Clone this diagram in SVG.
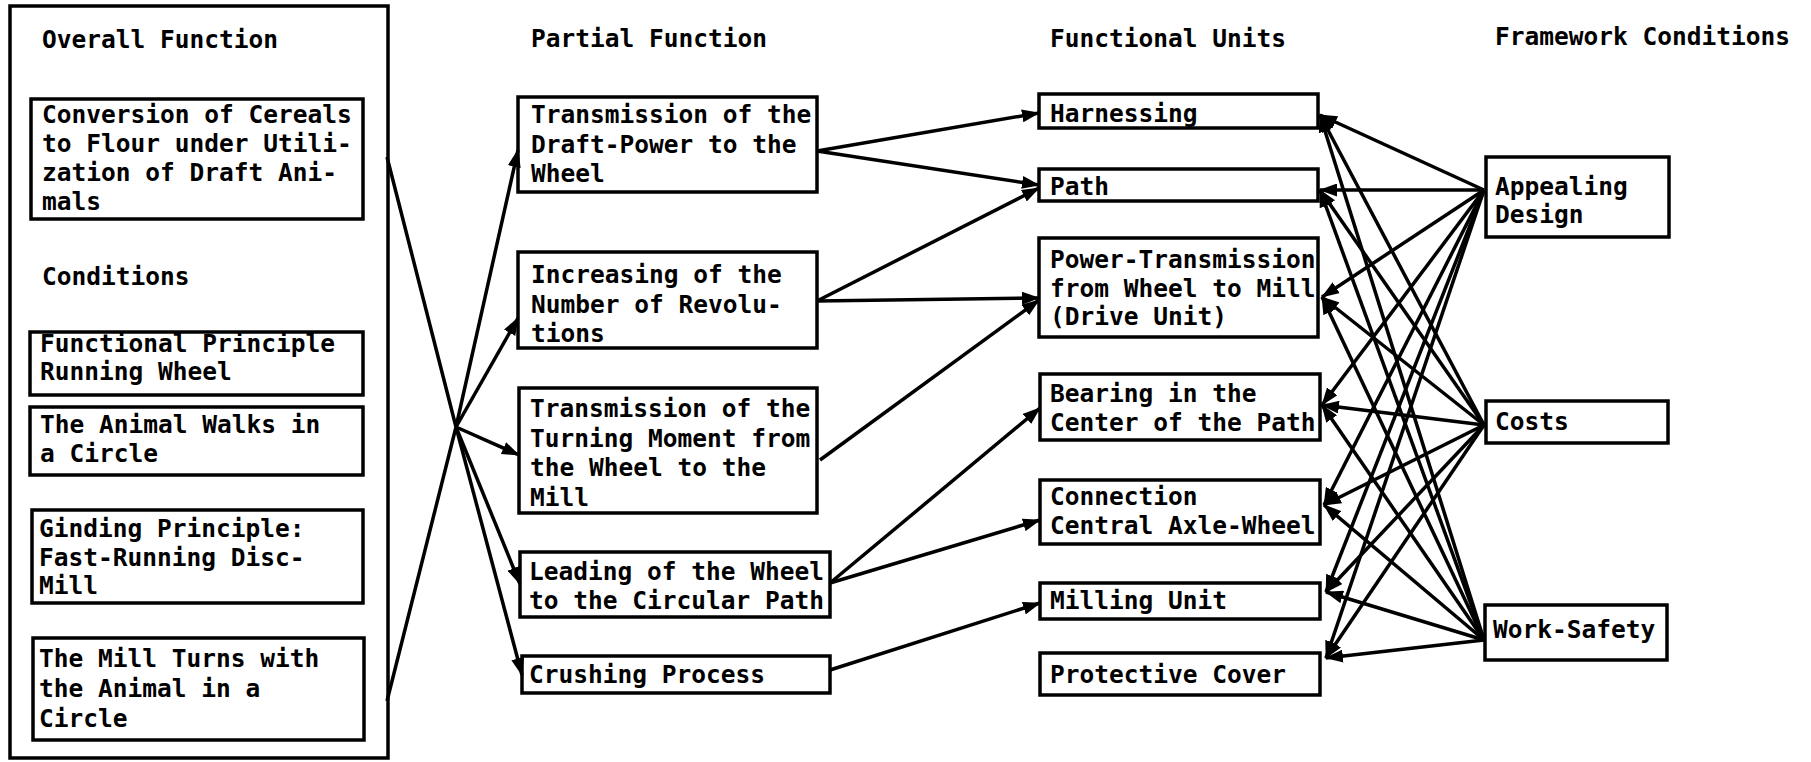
<svg xmlns="http://www.w3.org/2000/svg" width="1811" height="762" viewBox="0 0 1811 762">
<style>
text{font-family:"DejaVu Sans Mono","Liberation Mono",monospace;font-weight:bold;font-size:24.5px;fill:#000}
.box{fill:none;stroke:#000;stroke-width:3.5}
.ln{fill:none;stroke:#000;stroke-width:3.5}
.ar{fill:none;stroke:#000;stroke-width:3.5;marker-end:url(#ah)}
</style>
<defs>
<marker id="ah" viewBox="0 0 18 13" refX="17" refY="6.5" markerWidth="18" markerHeight="13" markerUnits="userSpaceOnUse" orient="auto">
<path d="M0,0 L18,6.5 L0,13 z" fill="#000"/>
</marker>
</defs>
<rect width="1811" height="762" fill="#fff"/>

<g id="overall">
<rect class="box" x="10" y="6" width="378" height="752"/>
<text x="42" y="48">Overall Function</text>
<text x="42" y="285">Conditions</text>
</g>
<g id="conversion">
<rect class="box" x="31" y="99" width="332" height="120"/>
<text x="42" y="123">Conversion of Cereals<tspan x="42" dy="29">to Flour under Utili-</tspan><tspan x="42" dy="29">zation of Draft Ani-</tspan><tspan x="42" dy="29">mals</tspan></text>
</g>
<g id="cond1">
<rect class="box" x="30" y="332" width="333" height="63"/>
<text x="40" y="352">Functional Principle<tspan x="40" dy="28">Running Wheel</tspan></text>
</g>
<g id="cond2">
<rect class="box" x="30" y="407" width="333" height="68"/>
<text x="40" y="433">The Animal Walks in<tspan x="40" dy="29">a Circle</tspan></text>
</g>
<g id="cond3">
<rect class="box" x="32" y="510" width="331" height="93"/>
<text x="39" y="537">Ginding Principle:<tspan x="39" dy="28.5">Fast-Running Disc-</tspan><tspan x="39" dy="28.5">Mill</tspan></text>
</g>
<g id="cond4">
<rect class="box" x="33" y="638" width="331" height="102"/>
<text x="39" y="667">The Mill Turns with<tspan x="39" dy="30">the Animal in a</tspan><tspan x="39" dy="30">Circle</tspan></text>
</g>

<text x="531" y="47">Partial Function</text>
<g id="pf1">
<rect class="box" x="518" y="97" width="299" height="95"/>
<text x="531" y="123">Transmission of the<tspan x="531" dy="29.5">Draft-Power to the</tspan><tspan x="531" dy="29.5">Wheel</tspan></text>
</g>
<g id="pf2">
<rect class="box" x="518" y="252" width="299" height="96"/>
<text x="531" y="283">Increasing of the<tspan x="531" dy="29.5">Number of Revolu-</tspan><tspan x="531" dy="29.5">tions</tspan></text>
</g>
<g id="pf3">
<rect class="box" x="519" y="388" width="298" height="125"/>
<text x="530" y="417">Transmission of the<tspan x="530" dy="29.5">Turning Moment from</tspan><tspan x="530" dy="29.5">the Wheel to the</tspan><tspan x="530" dy="29.5">Mill</tspan></text>
</g>
<g id="pf4">
<rect class="box" x="520" y="552" width="310" height="65"/>
<text x="529" y="580">Leading of the Wheel<tspan x="529" dy="28.5">to the Circular Path</tspan></text>
</g>
<g id="pf5">
<rect class="box" x="522" y="656" width="308" height="37"/>
<text x="529" y="683">Crushing Process</text>
</g>

<text x="1050" y="47">Functional Units</text>
<g id="fu1">
<rect class="box" x="1039" y="94" width="279" height="34"/>
<text x="1050" y="122">Harnessing</text>
</g>
<g id="fu2">
<rect class="box" x="1039" y="169" width="279" height="32"/>
<text x="1050" y="195">Path</text>
</g>
<g id="fu3">
<rect class="box" x="1039" y="238" width="279" height="99"/>
<text x="1050" y="268">Power-Transmission<tspan x="1050" dy="28.5">from Wheel to Mill</tspan><tspan x="1050" dy="28.5">(Drive Unit)</tspan></text>
</g>
<g id="fu4">
<rect class="box" x="1040" y="374" width="280" height="66"/>
<text x="1050" y="402">Bearing in the<tspan x="1050" dy="28.5">Center of the Path</tspan></text>
</g>
<g id="fu5">
<rect class="box" x="1040" y="480" width="280" height="64"/>
<text x="1050" y="505">Connection<tspan x="1050" dy="29">Central Axle-Wheel</tspan></text>
</g>
<g id="fu6">
<rect class="box" x="1040" y="583" width="280" height="36"/>
<text x="1050" y="609">Milling Unit</text>
</g>
<g id="fu7">
<rect class="box" x="1040" y="653" width="280" height="42"/>
<text x="1050" y="683">Protective Cover</text>
</g>

<text x="1495" y="45">Framework Conditions</text>
<g id="fc1">
<rect class="box" x="1486" y="157" width="183" height="80"/>
<text x="1495" y="195">Appealing<tspan x="1495" dy="28">Design</tspan></text>
</g>
<g id="fc2">
<rect class="box" x="1486" y="401" width="182" height="42"/>
<text x="1495" y="430">Costs</text>
</g>
<g id="fc3">
<rect class="box" x="1485" y="605" width="182" height="55"/>
<text x="1493" y="638">Work-Safety</text>
</g>

<g id="connectors">
<path class="ln" d="M387,157 L456,427 M387,701 L456,427"/>
<path class="ar" d="M456,427 L518,150"/>
<path class="ar" d="M456,427 L518,318"/>
<path class="ar" d="M456,427 L519,455"/>
<path class="ar" d="M456,427 L520,584"/>
<path class="ar" d="M456,427 L522,675"/>

<path class="ar" d="M817,151 L1039,113"/>
<path class="ar" d="M817,151 L1039,185"/>
<path class="ar" d="M817,301 L1039,188"/>
<path class="ar" d="M817,301 L1039,298"/>
<path class="ar" d="M820,460 L1039,300"/>
<path class="ar" d="M830,583 L1040,408"/>
<path class="ar" d="M830,583 L1040,520"/>
<path class="ar" d="M830,670 L1040,603"/>

<path class="ar" d="M1484,190 L1320,115"/>
<path class="ar" d="M1484,190 L1320,190"/>
<path class="ar" d="M1484,190 L1322,297"/>
<path class="ar" d="M1484,190 L1322,405"/>
<path class="ar" d="M1484,190 L1324,505"/>
<path class="ar" d="M1484,190 L1326,592"/>
<path class="ar" d="M1484,190 L1326,658"/>

<path class="ar" d="M1484,425 L1320,115"/>
<path class="ar" d="M1484,425 L1320,190"/>
<path class="ar" d="M1484,425 L1322,297"/>
<path class="ar" d="M1484,425 L1322,405"/>
<path class="ar" d="M1484,425 L1324,505"/>
<path class="ar" d="M1484,425 L1326,592"/>
<path class="ar" d="M1484,425 L1326,658"/>

<path class="ar" d="M1484,640 L1320,115"/>
<path class="ar" d="M1484,640 L1320,190"/>
<path class="ar" d="M1484,640 L1322,297"/>
<path class="ar" d="M1484,640 L1322,405"/>
<path class="ar" d="M1484,640 L1324,505"/>
<path class="ar" d="M1484,640 L1326,592"/>
<path class="ar" d="M1484,640 L1326,658"/>
</g>
</svg>
